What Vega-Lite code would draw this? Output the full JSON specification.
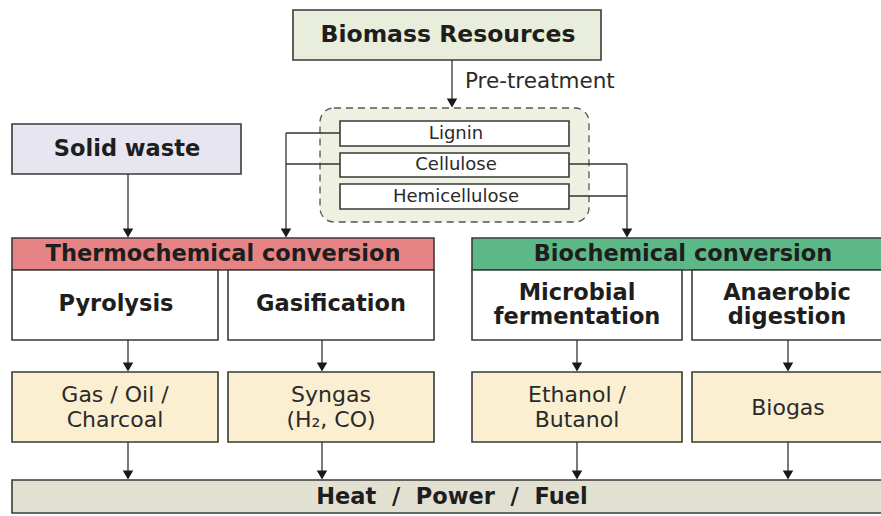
{
  "$schema": "https://vega.github.io/schema/vega-lite/v6.json",
  "width": 881,
  "height": 516,
  "padding": 0,
  "autosize": {"type": "fit", "contains": "padding"},
  "background": "#ffffff",
  "config": {"view": {"stroke": null}},
  "datasets": {
    "region": [{"x": 320, "x2": 589, "y": 108, "y2": 222}],
    "boxes": [
      {"name": "Biomass Resources", "kind": "biomass", "x": 293, "x2": 601, "y": 10, "y2": 60},
      {"name": "Lignin", "kind": "white", "x": 340, "x2": 569, "y": 121, "y2": 146},
      {"name": "Cellulose", "kind": "white", "x": 340, "x2": 569, "y": 153, "y2": 177},
      {"name": "Hemicellulose", "kind": "white", "x": 340, "x2": 569, "y": 184, "y2": 209},
      {"name": "Solid waste", "kind": "solid", "x": 12, "x2": 241, "y": 124, "y2": 174},
      {"name": "Thermochemical conversion", "kind": "thermo", "x": 12, "x2": 434, "y": 238, "y2": 270},
      {"name": "Pyrolysis", "kind": "white", "x": 12, "x2": 218, "y": 270, "y2": 340},
      {"name": "Gasification", "kind": "white", "x": 228, "x2": 434, "y": 270, "y2": 340},
      {"name": "Biochemical conversion", "kind": "bio", "x": 472, "x2": 895, "y": 238, "y2": 270},
      {"name": "Microbial fermentation", "kind": "white", "x": 472, "x2": 682, "y": 270, "y2": 340},
      {"name": "Anaerobic digestion", "kind": "white", "x": 692, "x2": 895, "y": 270, "y2": 340},
      {"name": "Gas / Oil / Charcoal", "kind": "product", "x": 12, "x2": 218, "y": 372, "y2": 442},
      {"name": "Syngas", "kind": "product", "x": 228, "x2": 434, "y": 372, "y2": 442},
      {"name": "Ethanol / Butanol", "kind": "product", "x": 472, "x2": 682, "y": 372, "y2": 442},
      {"name": "Biogas", "kind": "product", "x": 692, "x2": 895, "y": 372, "y2": 442},
      {"name": "Heat / Power / Fuel", "kind": "heat", "x": 12, "x2": 895, "y": 480, "y2": 513}
    ],
    "lines": [
      {"x": 452, "x2": 452, "y": 60, "y2": 100},
      {"x": 286, "x2": 340, "y": 133, "y2": 133},
      {"x": 286, "x2": 340, "y": 164, "y2": 164},
      {"x": 286, "x2": 286, "y": 133, "y2": 230},
      {"x": 128, "x2": 128, "y": 174, "y2": 230},
      {"x": 569, "x2": 627, "y": 164, "y2": 164},
      {"x": 569, "x2": 627, "y": 196, "y2": 196},
      {"x": 627, "x2": 627, "y": 164, "y2": 230},
      {"x": 128, "x2": 128, "y": 340, "y2": 364},
      {"x": 322, "x2": 322, "y": 340, "y2": 364},
      {"x": 577, "x2": 577, "y": 340, "y2": 364},
      {"x": 788, "x2": 788, "y": 340, "y2": 364},
      {"x": 128, "x2": 128, "y": 442, "y2": 472},
      {"x": 322, "x2": 322, "y": 442, "y2": 472},
      {"x": 577, "x2": 577, "y": 442, "y2": 472},
      {"x": 788, "x2": 788, "y": 442, "y2": 472}
    ],
    "heads": [
      {"x": 452, "y": 103},
      {"x": 286, "y": 233},
      {"x": 128, "y": 233},
      {"x": 627, "y": 233},
      {"x": 128, "y": 367},
      {"x": 322, "y": 367},
      {"x": 577, "y": 367},
      {"x": 788, "y": 367},
      {"x": 128, "y": 475},
      {"x": 322, "y": 475},
      {"x": 577, "y": 475},
      {"x": 788, "y": 475}
    ],
    "labels": [
      {"label": "Biomass Resources", "role": "title", "x": 448, "y": 35},
      {"label": "Solid waste", "role": "head", "x": 127, "y": 149},
      {"label": "Thermochemical conversion", "role": "head", "x": 223, "y": 254},
      {"label": "Biochemical conversion", "role": "head", "x": 683, "y": 254},
      {"label": "Pyrolysis", "role": "head", "x": 116, "y": 304},
      {"label": "Gasification", "role": "head", "x": 331, "y": 304},
      {"label": "Microbial\nfermentation", "role": "head", "x": 577, "y": 293},
      {"label": "Anaerobic\ndigestion", "role": "head", "x": 787, "y": 293},
      {"label": "Heat\u00a0\u00a0/\u00a0\u00a0Power\u00a0\u00a0/\u00a0\u00a0Fuel", "role": "head", "x": 452, "y": 497},
      {"label": "Gas / Oil /\nCharcoal", "role": "product", "x": 115, "y": 395},
      {"label": "Syngas\n(H₂, CO)", "role": "product", "x": 331, "y": 395},
      {"label": "Ethanol /\nButanol", "role": "product", "x": 577, "y": 395},
      {"label": "Biogas", "role": "product", "x": 788, "y": 408},
      {"label": "Lignin", "role": "small", "x": 456, "y": 134},
      {"label": "Cellulose", "role": "small", "x": 456, "y": 165},
      {"label": "Hemicellulose", "role": "small", "x": 456, "y": 197}
    ],
    "notes": [{"label": "Pre-treatment", "x": 465, "y": 82}]
  },
  "layer": [
    {
      "data": {"name": "region"},
      "mark": {"type": "rect", "fill": "#eef1e1", "stroke": "#555555", "strokeWidth": 1.3, "strokeDash": [7, 5], "cornerRadius": 14},
      "encoding": {
        "x": {"field": "x", "type": "quantitative", "scale": {"domain": [0, 881], "nice": false, "zero": false}, "axis": null},
        "x2": {"field": "x2"},
        "y": {"field": "y", "type": "quantitative", "scale": {"domain": [0, 516], "nice": false, "zero": false, "reverse": true}, "axis": null},
        "y2": {"field": "y2"}
      }
    },
    {
      "data": {"name": "boxes"},
      "mark": {"type": "rect", "stroke": "#3a3a3a", "strokeWidth": 1.6, "clip": true},
      "encoding": {
        "x": {"field": "x", "type": "quantitative"},
        "x2": {"field": "x2"},
        "y": {"field": "y", "type": "quantitative"},
        "y2": {"field": "y2"},
        "fill": {"field": "kind", "type": "nominal", "legend": null,
          "scale": {"domain": ["biomass", "white", "solid", "thermo", "bio", "product", "heat"],
                    "range": ["#e9eddb", "#ffffff", "#e7e5ef", "#e58385", "#5db887", "#fbefd1", "#e2e1d1"]}}
      }
    },
    {
      "data": {"name": "lines"},
      "mark": {"type": "rule", "stroke": "#333333", "strokeWidth": 1.3},
      "encoding": {
        "x": {"field": "x", "type": "quantitative"},
        "x2": {"field": "x2"},
        "y": {"field": "y", "type": "quantitative"},
        "y2": {"field": "y2"}
      }
    },
    {
      "data": {"name": "heads"},
      "mark": {"type": "point", "shape": "triangle-down", "filled": true, "fill": "#1a1a1a", "size": 110, "opacity": 1, "strokeWidth": 0},
      "encoding": {
        "x": {"field": "x", "type": "quantitative"},
        "y": {"field": "y", "type": "quantitative"}
      }
    },
    {
      "data": {"name": "labels"},
      "transform": [{"filter": "datum.role === 'title'"}],
      "mark": {"type": "text", "font": "DejaVu Sans", "fontWeight": "bold", "fontSize": 23.5, "fill": "#1e1e1e", "align": "center", "baseline": "middle"},
      "encoding": {
        "x": {"field": "x", "type": "quantitative"},
        "y": {"field": "y", "type": "quantitative"},
        "text": {"field": "label"}
      }
    },
    {
      "data": {"name": "labels"},
      "transform": [{"filter": "datum.role === 'head'"}],
      "mark": {"type": "text", "font": "DejaVu Sans", "fontWeight": "bold", "fontSize": 22.5, "fill": "#1e1e1e", "align": "center", "baseline": "middle", "lineBreak": "\n", "lineHeight": 24},
      "encoding": {
        "x": {"field": "x", "type": "quantitative"},
        "y": {"field": "y", "type": "quantitative"},
        "text": {"field": "label"}
      }
    },
    {
      "data": {"name": "labels"},
      "transform": [{"filter": "datum.role === 'product'"}],
      "mark": {"type": "text", "font": "DejaVu Sans", "fontSize": 22, "fill": "#2a2a2a", "align": "center", "baseline": "middle", "lineBreak": "\n", "lineHeight": 25},
      "encoding": {
        "x": {"field": "x", "type": "quantitative"},
        "y": {"field": "y", "type": "quantitative"},
        "text": {"field": "label"}
      }
    },
    {
      "data": {"name": "labels"},
      "transform": [{"filter": "datum.role === 'small'"}],
      "mark": {"type": "text", "font": "DejaVu Sans", "fontSize": 18, "fill": "#2a2a2a", "align": "center", "baseline": "middle"},
      "encoding": {
        "x": {"field": "x", "type": "quantitative"},
        "y": {"field": "y", "type": "quantitative"},
        "text": {"field": "label"}
      }
    },
    {
      "data": {"name": "notes"},
      "mark": {"type": "text", "font": "DejaVu Sans", "fontSize": 21.5, "fill": "#2a2a2a", "align": "left", "baseline": "middle"},
      "encoding": {
        "x": {"field": "x", "type": "quantitative"},
        "y": {"field": "y", "type": "quantitative"},
        "text": {"field": "label"}
      }
    }
  ]
}
